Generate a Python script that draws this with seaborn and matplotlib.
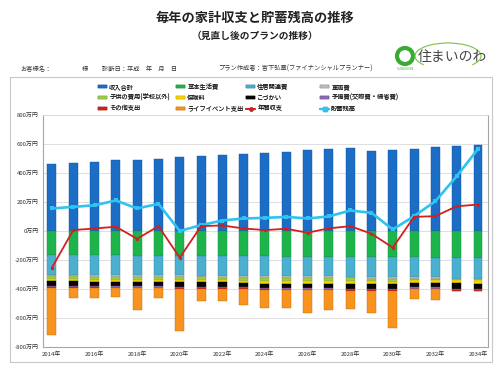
import numpy as np
import seaborn as sns
import matplotlib
import matplotlib.pyplot as plt
from matplotlib.patches import Patch, Rectangle, Ellipse, Arc
from matplotlib.lines import Line2D
plt.switch_backend('Agg')

sns.set_theme(style="white")
plt.rcParams['font.family'] = ['Noto Sans CJK JP', 'DejaVu Sans']

years = list(range(2014, 2035))

# 万円
income = [462, 468, 477, 486, 491, 498, 507, 514, 523, 530, 539,
          546, 555, 562, 571, 548, 555, 565, 576, 583, 594]
basic = [166, 167, 168, 169, 170, 171, 172, 173, 174, 175, 176,
         177, 178, 179, 180, 181, 182, 183, 184, 185, 186]
housing = [135, 135, 135, 135, 135, 135, 135, 135, 135, 135, 135,
           135, 135, 135, 135, 135, 135, 135, 135, 143, 143]
car = [12, 12, 12, 12, 12, 12, 12, 12, 12, 12, 12,
       12, 12, 12, 12, 12, 12, 12, 12, 10, 10]
children = [20, 20, 20, 20, 20, 20, 20, 20, 20, 20, 20,
            20, 20, 20, 20, 20, 20, 8, 8, 0, 0]
insurance = [14, 14, 14, 14, 14, 14, 14, 14, 14, 14, 20,
             20, 20, 20, 20, 20, 20, 20, 20, 24, 24]
pocket = [30, 30, 30, 30, 30, 30, 30, 30, 30, 30, 30,
          30, 30, 30, 30, 30, 30, 30, 30, 35, 35]
reserve = [10, 10, 10, 10, 10, 10, 10, 10, 10, 10, 10,
           10, 10, 10, 10, 10, 10, 10, 10, 10, 10]
other = [4, 4, 4, 4, 4, 4, 4, 4, 4, 4, 4,
         4, 4, 4, 4, 4, 4, 4, 4, 6, 6]
life_event = [324, 70, 67, 63, 150, 69, 294, 83, 86, 113, 126,
              123, 158, 134, 127, 155, 257, 66, 71, 0, 0]
balance = [-253, 6, 17, 29, -54, 33, -184, 33, 38, 17, 6,
           15, -12, 18, 33, -19, -115, 97, 102, 170, 182]
savings = [155, 166, 177, 210, 155, 187, 0, 40, 72, 86, 90,
           97, 86, 100, 141, 125, 10, 102, 205, 377, 565]

yticks = [800, 600, 400, 200, 0, -200, -400, -600, -800]
xticks = list(range(2014, 2035, 2))

expense_series = [
    ("基本生活費", basic, "#1DB44B", "#148a38"),
    ("住居関連費", housing, "#4BAFD0", "#2f86a3"),
    ("車両費", car, "#BDBDBD", "#8c8c8c"),
    ("子供の費用(学校以外)", children, "#9ACD4A", "#74a02f"),
    ("保険料", insurance, "#F5D400", "#c4a800"),
    ("こづかい", pocket, "#050505", "#000000"),
    ("予備費(交際費・帰省費)", reserve, "#8E6BB5", "#6a4d8c"),
    ("その他支出", other, "#D8201E", "#a01512"),
    ("ライフイベント支出", life_event, "#F7931E", "#c46d0f"),
]
income_color = "#1B6DC6"
balance_color = "#D21F1F"
savings_color = "#2EC3F0"

fig = plt.figure(figsize=(5, 3.83), dpi=100)
ax = fig.add_axes([0.086, 0.094, 0.89, 0.606])

ax.set_axisbelow(True)
ax.yaxis.grid(True, color="#D9D9D9", linewidth=0.6)

sns.barplot(x=years, y=income, native_scale=True, width=0.42, color=income_color,
            saturation=1, errorbar=None, edgecolor="#14539a", linewidth=0.3, ax=ax)

bottom = np.zeros(len(years))
for name, vals, col, edge in expense_series:
    h = -np.array(vals, dtype=float)
    sns.barplot(x=years, y=h, native_scale=True, width=0.42, color=col, saturation=1,
                errorbar=None, bottom=bottom, edgecolor=edge, linewidth=0.3, ax=ax)
    bottom = bottom + h

sns.lineplot(x=years, y=savings, color=savings_color, linewidth=1.9, marker="s",
             markersize=2.4, markeredgewidth=0, ax=ax, zorder=5)
sns.lineplot(x=years, y=balance, color=balance_color, linewidth=1.3, marker="o",
             markersize=2.4, markeredgewidth=0, ax=ax, zorder=6)

ax.set_xlim(2013.58, 2034.47)
ax.set_ylim(-800, 800)
ax.set_yticks(yticks)
ax.set_yticklabels([f"{v}万円" for v in yticks], fontsize=4.3, color="#333333")
ax.set_xticks(xticks)
ax.set_xticklabels([f"{y}年" for y in xticks], fontsize=4.3, color="#333333")
ax.tick_params(axis="both", length=0, pad=3)
for s in ax.spines.values():
    s.set_color("#A6A6A6")
    s.set_linewidth(0.8)
ax.spines["top"].set_color("#D9D9D9")
ax.spines["top"].set_linewidth(0.6)
ax.set_xlabel("")
ax.set_ylabel("")

# legend: one column per legend, placed at the reference x positions
handles = {"収入合計": Patch(facecolor=income_color, edgecolor="#14539a", linewidth=0.3)}
for name, vals, col, edge in expense_series:
    handles[name] = Patch(facecolor=col, edgecolor=edge, linewidth=0.3)
handles["年間収支"] = Line2D([], [], color=balance_color, linewidth=1.3, marker="o", markersize=2.2)
handles["貯蓄残高"] = Line2D([], [], color=savings_color, linewidth=1.6, marker="s", markersize=2.2)
columns = [["収入合計", "子供の費用(学校以外)", "その他支出"],
           ["基本生活費", "保険料", "ライフイベント支出"],
           ["住居関連費", "こづかい", "年間収支"],
           ["車両費", "予備費(交際費・帰省費)", "貯蓄残高"]]
col_x = [98, 176, 246, 320]
for cx, labels in zip(col_x, columns):
    lg = fig.legend([handles[k] for k in labels], labels, ncol=1, loc="upper left",
                    bbox_to_anchor=(cx / 500, 1 - 83 / 383), frameon=False, fontsize=4.5,
                    handlelength=1.5, handleheight=0.45, handletextpad=0.3,
                    labelspacing=0.45, borderpad=0.0, borderaxespad=0.0)
    fig.add_artist(lg)

# outer frame
fig.patches.append(Rectangle((10 / 500, 1 - 362 / 383), 482 / 500, 285 / 383,
                             transform=fig.transFigure, fill=False,
                             edgecolor="#C8C8C8", linewidth=0.8))

# titles
fig.text(0.51, 0.952, "毎年の家計収支と貯蓄残高の推移", ha="center", va="center",
         fontsize=9.5, fontweight="bold", color="#222222")
fig.text(0.51, 0.905, "（見直し後のプランの推移）", ha="center", va="center",
         fontsize=7, fontweight="bold", color="#222222")

info_y = 1 - 69 / 383
fig.text(20 / 500, info_y, "お客様名：", fontsize=4.5, va="center", color="#333333")
fig.text(82 / 500, info_y, "様", fontsize=4.5, va="center", color="#333333")
fig.text(102 / 500, info_y, "診断日：平成　年　月　日", fontsize=4.5, va="center", color="#333333")
fig.text(218 / 500, info_y, "プラン作成者：宮下弘章(ファイナンシャルプランナー)", fontsize=4.5,
         va="center", color="#333333")

# logo
lax = fig.add_axes([390 / 500, 1 - 72 / 383, 95 / 500, 30 / 383])
lax.set_xlim(0, 95)
lax.set_ylim(0, 30)
lax.axis("off")
lax.add_patch(Ellipse((15, 16), 16, 16, fill=False, edgecolor="#3BAA35", linewidth=3.0))
lax.add_patch(Arc((58, 16), 66, 26, theta1=-20, theta2=200, edgecolor="#7CC242", linewidth=0.8))
lax.text(28, 15, "住まいのわ", fontsize=10, va="center", color="#444444")
lax.text(15, 3, "SUMAI NO WA", fontsize=1.8, ha="center", va="center", color="#3BAA35")

plt.savefig("out.png", dpi=100)
